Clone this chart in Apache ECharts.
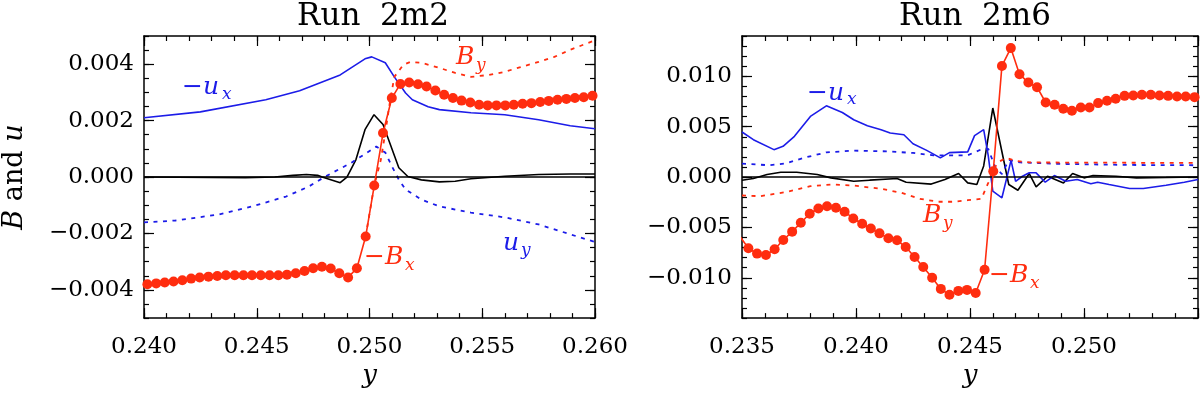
<!DOCTYPE html>
<html>
<head>
<meta charset="utf-8">
<script src="https://cdn.jsdelivr.net/npm/echarts@6/dist/echarts.min.js"></script>
<style>
html, body { margin: 0; padding: 0; background: #fff; }
#chart { width: 1200px; height: 394px; }
</style>
</head>
<body>
<div id="chart"></div>
<script>
// all field values are in units of 1e-3

// ---- Run 2m2 (left panel) ----
const uxL = [[0.2400,2.10],[0.2425,2.31],[0.2454,2.74],[0.2469,3.06],[0.2487,3.62],[0.2498,4.19],[0.2501,4.26],
  [0.2507,4.05],[0.2511,3.55],[0.2516,2.98],[0.2519,2.74],[0.2526,2.49],[0.2531,2.39],[0.2545,2.28],[0.2560,2.21],
  [0.2575,2.03],[0.2589,1.82],[0.2600,1.71]];
const uyL = [[0.2400,-1.61],[0.2414,-1.54],[0.2433,-1.33],[0.2448,-1.04],[0.2463,-0.69],[0.2473,-0.34],[0.2480,0.00],
  [0.2492,0.51],[0.2499,0.87],[0.2503,1.08],[0.2507,0.87],[0.2510,0.37],[0.2513,-0.09],[0.2516,-0.44],[0.2523,-0.80],
  [0.2531,-1.04],[0.2545,-1.26],[0.2560,-1.43],[0.2575,-1.68],[0.2589,-2.03],[0.2600,-2.30]];
const byL = [[0.24983,-2.11],[0.25021,-0.30],[0.2505,0.60],[0.2507,1.57],[0.2509,2.63],[0.2511,3.55],[0.2515,3.98],
  [0.2518,4.08],[0.2523,4.05],[0.2531,3.87],[0.2538,3.69],[0.2545,3.55],[0.2553,3.62],[0.2560,3.73],[0.2567,3.90],
  [0.2575,4.08],[0.2582,4.26],[0.2589,4.51],[0.2600,4.85]];
const blkL = [[0.2400,0.00],[0.2445,-0.02],[0.2458,0.00],[0.2466,0.06],[0.2472,0.09],[0.2477,0.06],[0.2479,0.00],
  [0.2487,-0.20],[0.2490,0.00],[0.2494,0.62],[0.2498,1.68],[0.2502,2.21],[0.2506,1.86],[0.2509,1.21],[0.2513,0.33],
  [0.2517,0.02],[0.2523,-0.10],[0.2531,-0.17],[0.2538,-0.15],[0.2545,-0.06],[0.2560,0.03],[0.2575,0.09],
  [0.2589,0.11],[0.2600,0.11]];
const bxLx = [0.23976,0.24015,0.24054,0.24092,0.24131,0.24170,0.24209,0.24247,0.24286,0.24325,0.24363,0.24402,
  0.24441,0.24479,0.24518,0.24557,0.24596,0.24634,0.24673,0.24712,0.24750,0.24789,0.24828,0.24866,0.24905,
  0.24944,0.24983,0.25021,0.25060,0.25099,0.25137,0.25176,0.25215,0.25253,0.25292,0.25331,0.25370,0.25408,
  0.25447,0.25486,0.25524,0.25563,0.25602,0.25640,0.25679,0.25718,0.25757,0.25795,0.25834,0.25873,0.25911,
  0.25950,0.25989];
const bxLy = [-3.83,-3.80,-3.77,-3.74,-3.70,-3.66,-3.60,-3.56,-3.53,-3.51,-3.48,-3.48,-3.48,-3.48,-3.48,-3.48,
  -3.48,-3.46,-3.41,-3.33,-3.23,-3.18,-3.24,-3.41,-3.56,-3.23,-2.11,-0.30,1.56,2.80,3.30,3.35,3.29,3.21,3.07,
  2.92,2.80,2.71,2.64,2.56,2.54,2.54,2.54,2.56,2.60,2.62,2.66,2.70,2.74,2.77,2.80,2.83,2.88];

// ---- Run 2m6 (right panel) ----
const uxR = [[0.2350,4.47],[0.2355,3.71],[0.2364,2.72],[0.2368,3.05],[0.2373,4.04],[0.2380,6.02],[0.2387,7.07],
  [0.2394,6.41],[0.2399,5.69],[0.2405,5.10],[0.2411,4.70],[0.2415,4.37],[0.2421,4.20],[0.2425,3.31],[0.2431,2.65],
  [0.2437,1.90],[0.2441,2.42],[0.2449,2.50],[0.2452,4.11],[0.2456,4.70],[0.2458,2.13],[0.2460,-1.40],[0.2464,-2.06],
  [0.2468,1.65],[0.2470,-0.42],[0.2473,0.08],[0.2476,0.42],[0.2479,0.42],[0.2483,-0.51],[0.2487,0.15],[0.2492,-0.42],
  [0.2497,-0.25],[0.2503,-0.67],[0.2506,-0.51],[0.2511,-0.74],[0.2520,-1.14],[0.2526,-1.14],[0.2536,-0.81],
  [0.2544,-0.51],[0.2550,-0.25]];
const uyR = [[0.2350,1.34],[0.2362,1.17],[0.2369,1.34],[0.2377,1.90],[0.2387,2.45],[0.2399,2.62],[0.2414,2.55],
  [0.2425,2.39],[0.2434,2.16],[0.2449,2.16],[0.2455,2.75],[0.2458,2.80],[0.2461,1.00],[0.2464,0.30],[0.2467,1.70],
  [0.2472,1.45],[0.2490,1.30],[0.2520,1.20],[0.2550,1.17]];
const byR = [[0.2350,-1.83],[0.2358,-1.90],[0.2369,-1.50],[0.2380,-0.91],[0.2389,-0.74],[0.2399,-0.84],[0.2411,-1.17],
  [0.2420,-1.56],[0.2428,-2.16],[0.2436,-2.45],[0.2443,-2.45],[0.2449,-2.30],[0.2455,-2.16],[0.2458,-0.58],
  [0.2460,0.74],[0.2463,1.56],[0.2466,1.90],[0.2470,1.60],[0.2476,1.45],[0.2550,1.40]];
const blkR = [[0.2350,-0.31],[0.2355,-0.15],[0.2361,0.25],[0.2367,0.48],[0.2374,0.48],[0.2383,0.25],[0.2389,-0.08],
  [0.2399,-0.42],[0.2406,-0.31],[0.2418,-0.15],[0.2422,-0.51],[0.2433,-0.70],[0.2439,-0.25],[0.2445,0.35],
  [0.2449,-0.58],[0.2453,-0.74],[0.2456,1.10],[0.2460,6.85],[0.2467,-0.74],[0.2471,-1.31],[0.2476,0.35],
  [0.2479,-0.97],[0.2484,0.08],[0.2491,-0.58],[0.2495,0.35],[0.2500,-0.08],[0.2504,0.15],[0.2514,0.08],
  [0.2523,-0.08],[0.2536,-0.05],[0.2550,0.00]];
const bxRx = [0.23490,0.23528,0.23566,0.23605,0.23643,0.23681,0.23720,0.23758,0.23797,0.23835,0.23873,0.23912,
  0.23950,0.23988,0.24027,0.24065,0.24103,0.24142,0.24180,0.24218,0.24257,0.24295,0.24334,0.24372,0.24410,
  0.24449,0.24487,0.24525,0.24564,0.24602,0.24640,0.24679,0.24717,0.24756,0.24794,0.24832,0.24871,0.24909,
  0.24947,0.24986,0.25024,0.25062,0.25101,0.25139,0.25178,0.25216,0.25254,0.25293,0.25331,0.25369,0.25408,
  0.25446,0.25485];
const bxRy = [-5.86,-7.07,-7.60,-7.74,-7.17,-6.25,-5.42,-4.53,-3.64,-3.12,-2.89,-3.05,-3.44,-4.11,-4.63,-5.10,
  -5.59,-6.08,-6.28,-6.95,-7.93,-8.92,-10.00,-11.10,-11.69,-11.30,-11.20,-11.50,-9.20,0.58,11.03,12.80,10.21,
  9.38,8.92,7.40,7.17,6.78,6.58,6.91,6.91,7.34,7.57,7.77,8.06,8.09,8.16,8.16,8.09,8.06,7.99,7.99,7.93];

// ticks
const xMajorL = [0.240, 0.245, 0.250, 0.255, 0.260];
const xMajorR = [0.235, 0.240, 0.245, 0.250, 0.255];
const xLabelsR = [0.235, 0.240, 0.245, 0.250];
const yMajorL = [-4, -2, 0, 2, 4];
const yMajorR = [-10, -5, 0, 5, 10];

const BLUE = '#1c1ce8';
const RED = '#ff2d0f';
const FONT = 'DejaVu Serif';

function steps(min, max, step) {
  const out = [];
  for (let v = min; v <= max + step / 2; v += step) out.push(+v.toFixed(6));
  return out;
}

const fmtX = v => v.toFixed(3);
const fmtY = v => { const s = Math.abs(v / 1000).toFixed(3); return v < -1e-9 ? '\u2212' + s : s; };

const axLine = { show: true, onZero: false, lineStyle: { color: '#000', width: 1.5 } };
const noLine = { show: false, onZero: false };

function axes(dim, gi, min, max, major, labels, minor, fmt, extra) {
  const pos = dim === 'x' ? ['bottom', 'top'] : ['left', 'right'];
  const base = { gridIndex: gi, type: 'value', min: min, max: max, splitLine: { show: false }, minorTick: { show: false } };
  const tick = (vals, len) => ({ show: true, inside: true, length: len, customValues: vals,
    lineStyle: { color: '#000', width: 1.2 } });
  const lab = {
    show: true, customValues: labels, formatter: fmt, color: '#000',
    fontFamily: FONT, fontSize: 23, margin: dim === 'x' ? 17 : 10
  };
  return [
    Object.assign({}, base, { position: pos[0], axisLine: axLine, axisTick: tick(major, 10), axisLabel: lab }, extra || {}),
    Object.assign({}, base, { position: pos[0], axisLine: noLine, axisTick: tick(minor, 5),
      axisLabel: { show: false, customValues: minor } }),
    Object.assign({}, base, { position: pos[1], axisLine: axLine, axisTick: tick(major, 10),
      axisLabel: { show: false, customValues: major } }),
    Object.assign({}, base, { position: pos[1], axisLine: noLine, axisTick: tick(minor, 5),
      axisLabel: { show: false, customValues: minor } })
  ];
}

const xName = {
  name: 'y', nameLocation: 'middle', nameGap: 38,
  nameTextStyle: { fontFamily: FONT, fontStyle: 'italic', fontSize: 26, color: '#000' }
};
const yName = {
  name: '{i|B} and {i|u}', nameLocation: 'middle', nameGap: 116,
  nameTextStyle: { fontFamily: FONT, fontSize: 27, color: '#000',
    rich: { i: { fontFamily: FONT, fontStyle: 'italic', fontSize: 27, color: '#000' } } }
};

const xAxis = [].concat(
  axes('x', 0, 0.240, 0.260, xMajorL, xMajorL, steps(0.240, 0.260, 0.001), fmtX, xName),
  axes('x', 1, 0.235, 0.255, xMajorR, xLabelsR, steps(0.235, 0.255, 0.001), fmtX, xName)
);
const yAxis = [].concat(
  axes('y', 0, -5, 5, yMajorL, yMajorL, steps(-5, 5, 0.5), fmtY, yName),
  axes('y', 1, -14, 14, yMajorR, yMajorR, steps(-14, 14, 1), fmtY)
);

function line(gi, data, color, dashed, extra) {
  return Object.assign({
    type: 'line', xAxisIndex: gi * 4, yAxisIndex: gi * 4, data: data,
    showSymbol: false, symbol: 'none', clip: true, silent: true, z: 3,
    lineStyle: { color: color, width: dashed ? 1.8 : 1.6, type: dashed ? [4, 5.5] : 'solid' }
  }, extra || {});
}

function markers(gi, xs, ys) {
  return {
    type: 'line', xAxisIndex: gi * 4, yAxisIndex: gi * 4,
    data: xs.map((x, i) => [x, ys[i]]),
    symbol: 'circle', symbolSize: 10, showSymbol: true, clip: true, silent: true, z: 5,
    itemStyle: { color: RED, borderWidth: 0 },
    lineStyle: { color: RED, width: 1.6 }
  };
}

const zeroLine = {
  silent: true, symbol: 'none', label: { show: false },
  lineStyle: { color: '#000', width: 1.5, type: 'solid' },
  data: [{ yAxis: 0 }]
};

const series = [
  line(0, blkL, '#000', false, { markLine: zeroLine }),
  line(0, uxL, BLUE, false),
  line(0, uyL, BLUE, true),
  line(0, byL, RED, true),
  markers(0, bxLx, bxLy),
  line(1, blkR, '#000', false, { markLine: zeroLine }),
  line(1, uxR, BLUE, false),
  line(1, uyR, BLUE, true),
  line(1, byR, RED, true),
  markers(1, bxRx, bxRy)
];

// curve labels: main symbol + subscript
const curveLabels = [
  { t: '\u2212u', s: 'x', x: 182, y: 87, sx: 222, sy: 95, c: BLUE },
  { t: 'B', s: 'y', x: 456, y: 57, sx: 476, sy: 66, c: RED },
  { t: 'u', s: 'y', x: 503, y: 243, sx: 521, sy: 251, c: BLUE },
  { t: '\u2212B', s: 'x', x: 364, y: 257, sx: 405, sy: 266, c: RED },
  { t: '\u2212u', s: 'x', x: 807, y: 93, sx: 847, sy: 100, c: BLUE },
  { t: 'B', s: 'y', x: 923, y: 215, sx: 943, sy: 224, c: RED },
  { t: '\u2212B', s: 'x', x: 989, y: 275, sx: 1030, sy: 284, c: RED }
];
const graphic = [];
curveLabels.forEach(l => {
  graphic.push({ type: 'text', x: l.x, y: l.y, z: 100, silent: true,
    style: { text: l.t, fill: l.c, fontFamily: FONT, fontStyle: 'italic', fontSize: 25, verticalAlign: 'middle' } });
  graphic.push({ type: 'text', x: l.sx, y: l.sy, z: 100, silent: true,
    style: { text: l.s, fill: l.c, fontFamily: FONT, fontStyle: 'italic', fontSize: 17, verticalAlign: 'middle' } });
});

const titleStyle = { fontFamily: FONT, fontSize: 31, fontWeight: 'normal', color: '#000' };

const chart = echarts.init(document.getElementById('chart'), null, { renderer: 'canvas' });
chart.setOption({
  animation: false,
  backgroundColor: '#fff',
  title: [
    { text: 'Run  2m2', left: 368, top: -4, textAlign: 'center', textStyle: titleStyle },
    { text: 'Run  2m6', left: 970, top: -4, textAlign: 'center', textStyle: titleStyle }
  ],
  grid: [
    { left: 139, top: 36, width: 456, height: 283 },
    { left: 742, top: 36, width: 456, height: 283 }
  ],
  xAxis: xAxis,
  yAxis: yAxis,
  series: series,
  graphic: graphic
});
</script>
</body>
</html>
